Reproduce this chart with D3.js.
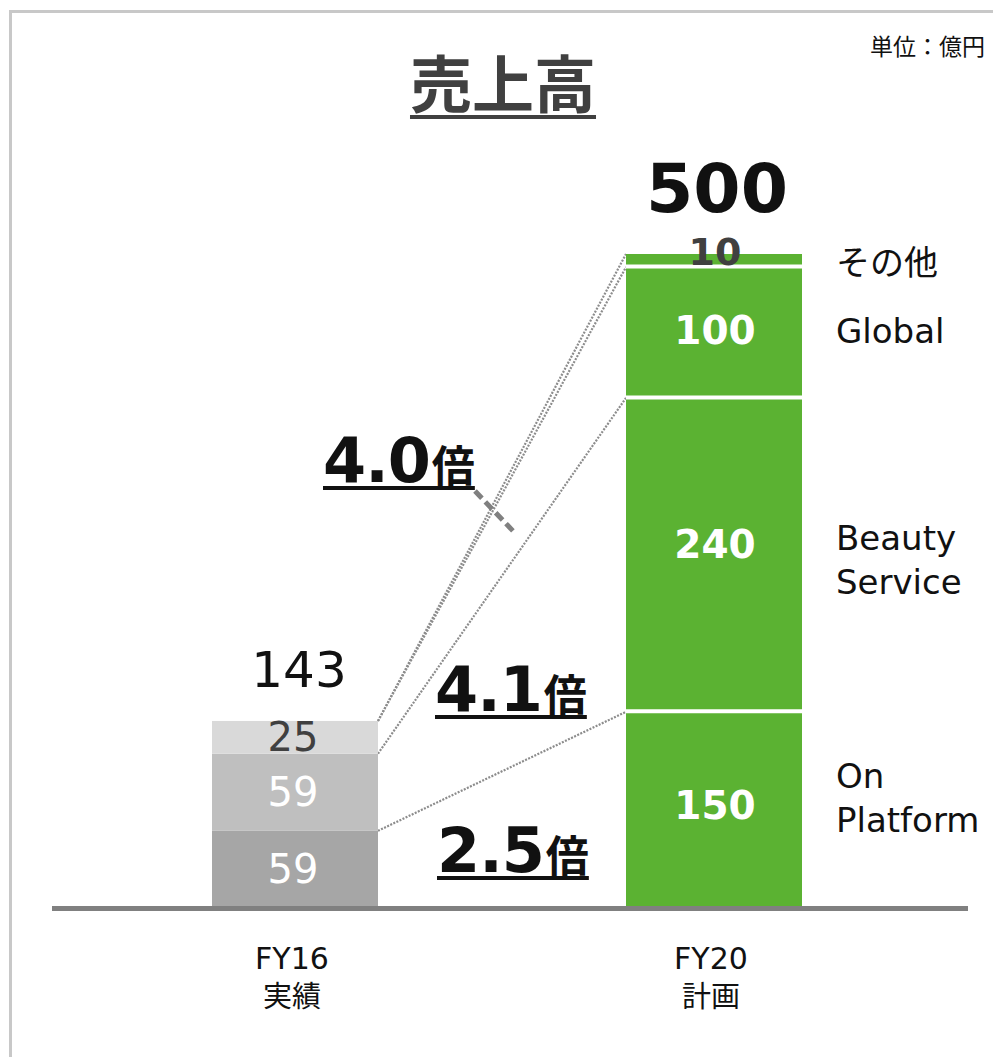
<!DOCTYPE html>
<html>
<head>
<meta charset="utf-8">
<script src="https://cdn.jsdelivr.net/npm/d3@7"></script>
<style>
  html, body { margin: 0; padding: 0; background: #fff; }
  svg { display: block; }
</style>
</head>
<body>
<svg id="chart" width="993" height="1057"></svg>
<script>
// Sales (units: 100 million yen)
const categories = ["FY16", "FY20"];
const categorySub = ["実績", "計画"];
const segmentNames = ["On Platform", "Beauty Service", "Global", "その他"];
const fy16Values = [59, 59, 25];
const fy20Values = [150, 240, 100, 10];
const titleText = "売上高";
const unitText = "単位：億円";

const svg = d3.select("#chart");
const latin = "'DejaVu Sans', 'Noto Sans CJK JP', sans-serif";
const cjk = "'Noto Sans CJK JP', 'DejaVu Sans', sans-serif";

// frame (top + left edges visible)
svg.append("rect").attr("x", 10.5).attr("y", 11.5)
  .attr("width", 1100).attr("height", 1100)
  .attr("fill", "none").attr("stroke", "#c8c8c8").attr("stroke-width", 3);

const y = d3.scaleLinear().domain([0, 500]).range([908, 254]);
const x = d3.scalePoint().domain(categories).range([295, 714]);
const barWidth = { FY16: 166, FY20: 176 };

const fy16Colors = ["#a6a6a6", "#bfbfbf", "#d9d9d9"];
const green = "#5bb232";

function stackOf(values) {
  let acc = 0;
  return values.map((v, i) => {
    const s = { i, v, y0: acc, y1: acc + v };
    acc += v;
    return s;
  });
}
const s16 = stackOf(fy16Values);
const s20 = stackOf(fy20Values);
const total16 = d3.sum(fy16Values);
const total20 = d3.sum(fy20Values);

const x16L = x("FY16") - barWidth.FY16 / 2, x16R = x("FY16") + barWidth.FY16 / 2;
const x20L = x("FY20") - barWidth.FY20 / 2, x20R = x("FY20") + barWidth.FY20 / 2;

// connector lines between cumulative tops
const connectors = [
  [s16[0].y1, s20[0].y1],
  [s16[1].y1, s20[1].y1],
  [s16[2].y1, s20[2].y1],
  [total16, total20]
];
svg.append("g").selectAll("line").data(connectors).join("line")
  .attr("x1", x16R).attr("y1", d => y(d[0]))
  .attr("x2", x20L).attr("y2", d => y(d[1]))
  .attr("stroke", "#8c8c8c").attr("stroke-width", 2.2)
  .attr("stroke-dasharray", "2,1.4");

// FY16 bar
svg.append("g").selectAll("rect").data(s16).join("rect")
  .attr("x", x16L).attr("width", barWidth.FY16)
  .attr("y", d => y(d.y1)).attr("height", d => y(d.y0) - y(d.y1))
  .attr("fill", d => fy16Colors[d.i]);

// FY20 bar
svg.append("g").selectAll("rect").data(s20).join("rect")
  .attr("x", x20L).attr("width", barWidth.FY20)
  .attr("y", d => y(d.y1)).attr("height", d => y(d.y0) - y(d.y1))
  .attr("fill", green);
// white separators between FY20 segments
svg.append("g").selectAll("line").data(s20.slice(0, -1)).join("line")
  .attr("x1", x20L).attr("x2", x20R)
  .attr("y1", d => y(d.y1) - 0.5).attr("y2", d => y(d.y1) - 0.5)
  .attr("stroke", "#fff").attr("stroke-width", 4);

// baseline
svg.append("line").attr("x1", 52).attr("x2", 968)
  .attr("y1", y(0) + 0.5).attr("y2", y(0) + 0.5)
  .attr("stroke", "#808080").attr("stroke-width", 5);

// FY16 segment labels
const fy16LabelColor = ["#ffffff", "#ffffff", "#404040"];
svg.append("g").selectAll("text").data(s16).join("text")
  .attr("x", x("FY16") - 2).attr("y", d => (y(d.y0) + y(d.y1)) / 2)
  .attr("text-anchor", "middle").attr("dominant-baseline", "central")
  .attr("font-family", latin).attr("font-size", 40)
  .attr("fill", d => fy16LabelColor[d.i])
  .text(d => d.v);

// FY20 segment labels
const fy20LabelDy = [-4, -10, -2, -9];
svg.append("g").selectAll("text").data(s20).join("text")
  .attr("x", x("FY20") + 1).attr("y", d => (y(d.y0) + y(d.y1)) / 2 + fy20LabelDy[d.i])
  .attr("text-anchor", "middle").attr("dominant-baseline", "central")
  .attr("font-family", latin).attr("font-size", d => d.i === 3 ? 38 : 39)
  .attr("font-weight", "bold")
  .attr("fill", d => d.i === 3 ? "#404040" : "#ffffff")
  .text(d => d.v);

// totals
svg.append("text").attr("x", x("FY16") + 4).attr("y", y(total16) - 34)
  .attr("text-anchor", "middle").attr("font-family", latin).attr("font-size", 50)
  .attr("fill", "#111").text(total16);
svg.append("text").attr("x", x("FY20") + 3).attr("y", y(total20) - 42)
  .attr("text-anchor", "middle").attr("font-family", latin).attr("font-size", 68)
  .attr("font-weight", "bold").attr("fill", "#111").text(total20);

// segment names on the right
const nameLines = segmentNames.map(n => n.split(" "));
const nameDy = [-12, 5, -1, 2];
svg.append("g").selectAll("text").data(s20).join("text")
  .attr("x", 836)
  .attr("font-family", latin).attr("font-size", 34).attr("fill", "#111")
  .each(function (d) {
    const lines = nameLines[d.i];
    const cy = (y(d.y0) + y(d.y1)) / 2 + nameDy[d.i];
    const lh = 44;
    d3.select(this).selectAll("tspan").data(lines).join("tspan")
      .attr("x", 836)
      .attr("y", (l, k) => cy + (k - (lines.length - 1) / 2) * lh)
      .attr("dominant-baseline", "central")
      .text(l => l);
  });

// growth multiple per segment (FY20 / FY16)
const fmt = d3.format(".1f");
const multiples = fy16Values.map((v, i) => fy20Values[i] / v);
const multPos = [[437, 872], [435, 711], [323, 482]];
multiples.forEach((m, i) => {
  const g = svg.append("g");
  const t = g.append("text").attr("x", multPos[i][0]).attr("y", multPos[i][1])
    .attr("font-family", latin).attr("font-weight", "bold").attr("fill", "#111");
  t.append("tspan").attr("font-size", 62).attr("letter-spacing", -1).text(fmt(m));
  t.append("tspan").attr("font-family", cjk).attr("font-size", 43).attr("dx", 2).text("倍");
  const bb = t.node().getBBox();
  g.append("line").attr("x1", bb.x).attr("x2", bb.x + bb.width)
    .attr("y1", multPos[i][1] + 6).attr("y2", multPos[i][1] + 6)
    .attr("stroke", "#111").attr("stroke-width", 4);
});

// pointer from the Global multiple to its connector
svg.append("line").attr("x1", 475).attr("y1", 491).attr("x2", 514).attr("y2", 532)
  .attr("stroke", "#808080").attr("stroke-width", 5).attr("stroke-dasharray", "10,5");

// category labels
const catG = svg.append("g");
catG.selectAll("text.cat").data(categories).join("text").attr("class", "cat")
  .attr("x", d => x(d) - 3).attr("y", 969)
  .attr("text-anchor", "middle").attr("font-family", latin).attr("font-size", 30)
  .attr("fill", "#111").text(d => d);
catG.selectAll("text.sub").data(categorySub).join("text").attr("class", "sub")
  .attr("x", (d, i) => x(categories[i]) - 3).attr("y", 1007)
  .attr("text-anchor", "middle").attr("font-family", cjk).attr("font-size", 29)
  .attr("fill", "#111").text(d => d);

// title
const title = svg.append("text").attr("x", 503).attr("y", 108)
  .attr("text-anchor", "middle").attr("font-family", cjk).attr("font-weight", "bold")
  .attr("font-size", 62).attr("fill", "#404040").text(titleText);
const tb = title.node().getBBox();
svg.append("line").attr("x1", tb.x).attr("x2", tb.x + tb.width)
  .attr("y1", 117).attr("y2", 117).attr("stroke", "#404040").attr("stroke-width", 4);

// unit note
svg.append("text").attr("x", 985).attr("y", 55).attr("text-anchor", "end")
  .attr("font-family", cjk).attr("font-size", 23).attr("fill", "#111").text(unitText);
</script>
</body>
</html>
